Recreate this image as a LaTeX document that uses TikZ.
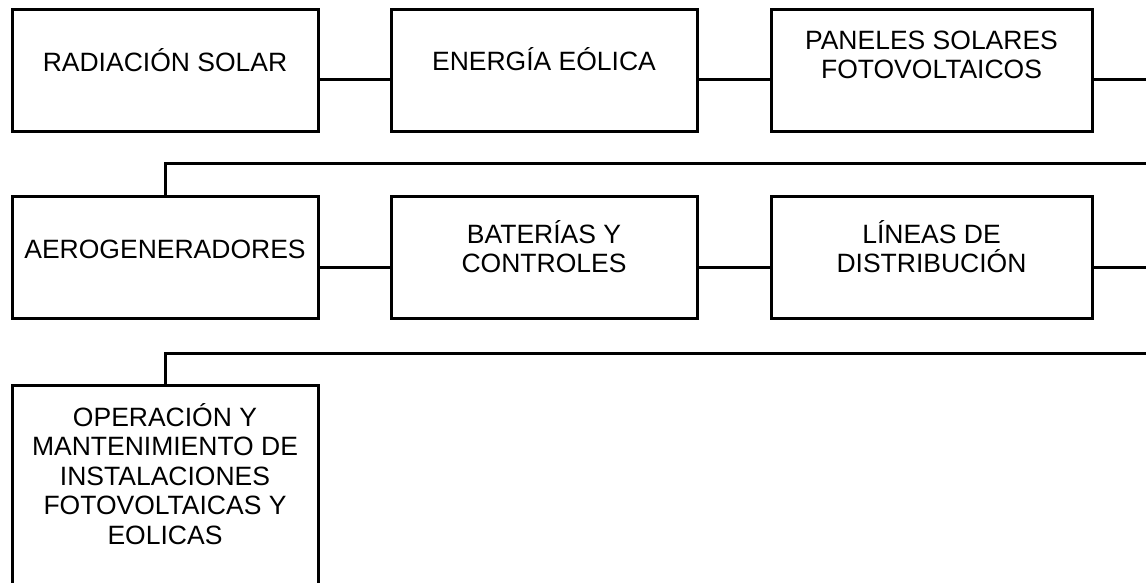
\documentclass[tikz,border=0pt]{standalone}
\usepackage{fontspec}
\setmainfont{Liberation Sans}
\tikzset{
  box/.style={draw, line width=3pt, minimum width=306pt, minimum height=122.5pt, inner sep=0pt, outer sep=0pt, anchor=north west},
  widebox/.style={minimum width=321pt},
  lbl/.style={anchor=base, inner sep=0pt, outer sep=0pt, font=\fontsize{26.5}{29.5}\selectfont, align=center},
  conn/.style={line width=3pt}
}
\begin{document}
\begin{tikzpicture}[x=1pt,y=-1pt]
\useasboundingbox (0,0) rectangle (1146,582);
\clip (0,0) rectangle (1146,582);
% row 1
\node[box] (b1) at (12,9) {};
\node[box] (b2) at (391,9) {};
\node[box,widebox] (b3) at (771,9) {};
% row 2
\node[box] (b4) at (12,196) {};
\node[box] (b5) at (391,196) {};
\node[box,widebox] (b6) at (771,196) {};
% row 3
\node[box,minimum height=260pt] (b7) at (12,385) {};
% labels (anchor = baseline of the last line)
\node[lbl] (t1) at ([yshift=-62pt]b1.north) {RADIACIÓN SOLAR};
\node[lbl] (t2) at ([yshift=-61.5pt]b2.north) {ENERGÍA EÓLICA};
\node[lbl] (t3) at ([yshift=-69.5pt]b3.north) {PANELES SOLARES\\FOTOVOLTAICOS};
\node[lbl] (t4) at ([yshift=-62pt]b4.north) {AEROGENERADORES};
\node[lbl] (t5) at ([yshift=-76.5pt]b5.north) {BATERÍAS Y\\CONTROLES};
\node[lbl] (t6) at ([yshift=-76.5pt]b6.north) {LÍNEAS DE\\DISTRIBUCIÓN};
\node[lbl] (t7) at ([yshift=-159pt]b7.north) {OPERACIÓN Y\\MANTENIMIENTO DE\\INSTALACIONES\\FOTOVOLTAICAS Y\\EOLICAS};
% connectors
\coordinate (e1) at (1150,79.25);
\coordinate (e2) at (1150,267.5);
\coordinate (r2) at (1150,163);
\coordinate (r3) at (1150,353);
\draw[conn] ([yshift=-9pt]b1.east) -- ([yshift=-9pt]b2.west);
\draw[conn] ([yshift=-9pt]b2.east) -- ([yshift=-9pt]b3.west);
\draw[conn] ([yshift=-9pt]b3.east) -- (e1);
\draw[conn] (r2) -- (b4.north |- r2) -- (b4.north);
\draw[conn] ([yshift=-10.25pt]b4.east) -- ([yshift=-10.25pt]b5.west);
\draw[conn] ([yshift=-10.25pt]b5.east) -- ([yshift=-10.25pt]b6.west);
\draw[conn] ([yshift=-10.25pt]b6.east) -- (e2);
\draw[conn] (r3) -- (b7.north |- r3) -- (b7.north);
\end{tikzpicture}
\end{document}
